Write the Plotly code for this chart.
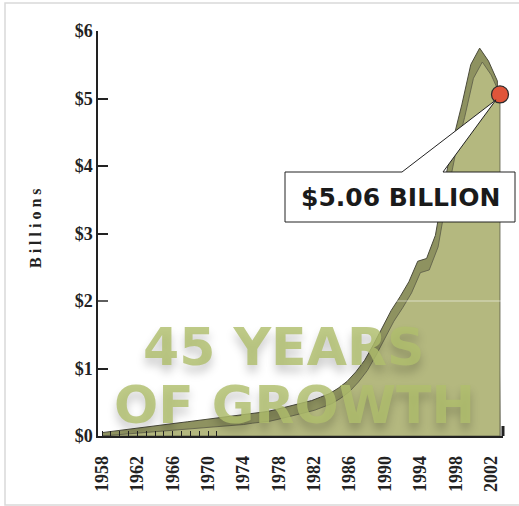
import plotly.graph_objects as go

# ---- data (billions of dollars) ----
years = list(range(1958, 2004))
values = [0.00, 0.01, 0.02, 0.03, 0.04, 0.05, 0.06, 0.07, 0.08, 0.09,
          0.10, 0.11, 0.12, 0.13, 0.14, 0.15, 0.17, 0.19, 0.20, 0.22,
          0.25, 0.28, 0.31, 0.34, 0.38, 0.43, 0.48, 0.56, 0.66, 0.80,
          0.97, 1.20, 1.45, 1.70, 1.90, 2.12, 2.42, 2.46, 2.80, 3.55,
          4.20, 4.72, 5.30, 5.54, 5.35, 5.06]
label_years = list(range(1958, 2003, 4))
y_ticks = [0, 1, 2, 3, 4, 5, 6]
y_tick_text = ["$0", "$1", "$2", "$3", "$4", "$5", "$6"]
callout_text = "$5.06 BILLION"
title_lines = ["45 YEARS", "OF GROWTH"]

# ---- layout geometry ----
W, H = 519, 506
L, R, T, B = 98, 16, 31, 70
pw, ph = W - L - R, H - T - B
x0, x1 = 1957.548, 2003.34
y0, y1 = 0, 6

def pxx(px):
    return (px - L) / pw

def pxy(py):
    return (H - B - py) / ph

# extrusion (back face) derived from the series: offset up/left, tapering at the start
dx = 0.3
back_x, back_y = [], []
for i, (yr, v) in enumerate(zip(years, values)):
    depth = 0.05 + 0.09 * min(1.0, i / 15)
    back_x.append(yr - dx * min(1.0, i / 3))
    back_y.append(v * 1.012 + depth)
back_x += [years[-1], years[0]]
back_y += [0, 0]

front_x = years + [years[-1], years[0]]
front_y = values + [0, 0]

fig = go.Figure()
fig.add_trace(go.Scatter(x=back_x, y=back_y, fill="toself", mode="lines",
                         fillcolor="#8e9260", line=dict(color="#4a4a3a", width=1),
                         hoverinfo="skip", showlegend=False))
fig.add_trace(go.Scatter(x=front_x, y=front_y, fill="toself", mode="lines",
                         fillcolor="#b4b87f", line=dict(color="#5a5a48", width=0.8),
                         hoverinfo="skip", showlegend=False))
fig.add_trace(go.Scatter(x=[years[-1]], y=[values[-1]], mode="markers",
                         marker=dict(size=17, color="#e0553a",
                                     line=dict(color="#2a2a2a", width=1.2)),
                         cliponaxis=False, showlegend=False, hoverinfo="skip"))

# callout (box + pointer) in paper coordinates; apex from last data point
ax = (years[-1] - 0.45 - x0) / (x1 - x0)
ay = (values[-1] - 0.08 - y0) / (y1 - y0)
bx0, bx1 = pxx(285), pxx(515)
by0, by1 = pxy(222), pxy(172)
tx0, tx1 = pxx(402), pxx(443)
path = (f"M {bx0},{by0} L {bx0},{by1} L {tx0},{by1} L {ax},{ay} "
        f"L {tx1},{by1} L {bx1},{by1} L {bx1},{by0} Z")

shapes = [
    # outer light frame
    dict(type="rect", xref="paper", yref="paper",
         x0=pxx(5), x1=pxx(530), y0=pxy(505), y1=pxy(3),
         line=dict(color="#d9d9d9", width=1.5), fillcolor="rgba(0,0,0,0)",
         layer="below"),
    # faint highlight line at $2
    dict(type="line", xref="paper", yref="y", x0=0, x1=1, y0=2, y1=2,
         line=dict(color="rgba(255,255,255,0.55)", width=1), layer="above"),
    # end tick of x axis
    dict(type="line", xref="paper", yref="paper", x0=1, x1=1, y0=0, y1=10 / ph,
         line=dict(color="#222", width=3), layer="above"),
    # callout
    dict(type="path", xref="paper", yref="paper", path=path,
         fillcolor="white", line=dict(color="#222", width=1), layer="above"),
]

title_font = dict(family="DejaVu Sans", size=52, weight="bold",
                  color="rgba(176,190,108,0.82)",
                  shadow="0px 7px 10px rgba(0,0,0,0.25)")
annotations = [
    dict(text=title_lines[0], xref="paper", yref="paper", x=pxx(283), y=pxy(347),
         showarrow=False, xanchor="center", yanchor="middle", font=title_font),
    dict(text=title_lines[1], xref="paper", yref="paper", x=pxx(294), y=pxy(405),
         showarrow=False, xanchor="center", yanchor="middle", font=title_font),
    dict(text=callout_text, xref="paper", yref="paper", x=pxx(400), y=pxy(197),
         showarrow=False, xanchor="center", yanchor="middle",
         font=dict(family="DejaVu Sans", size=25, weight="bold", color="#1a1a1a")),
    dict(text="\u00a0".join("Billions"), xref="paper", yref="paper",
         x=pxx(36), y=pxy(228), textangle=-90, showarrow=False,
         xanchor="center", yanchor="middle",
         font=dict(family="Liberation Serif", size=16, weight="bold", color="#222")),
]

fig.update_layout(
    width=W, height=H,
    margin=dict(l=L, r=R, t=T, b=B, pad=0),
    paper_bgcolor="white", plot_bgcolor="white",
    shapes=shapes, annotations=annotations,
    xaxis=dict(range=[x0, x1], tickvals=label_years,
               ticktext=[str(y) for y in label_years], tickangle=-90,
               ticks="", showgrid=False, zeroline=False,
               showline=True, linecolor="#222", linewidth=1.8,
               tickfont=dict(family="Liberation Serif", size=18, weight="bold", color="#222"),
               ticklabelstandoff=11,
               minor=dict(tickvals=list(range(1958, 1972)), ticks="inside",
                          ticklen=5, tickcolor="#222", tickwidth=1)),
    yaxis=dict(range=[y0, y1], tickvals=y_ticks, ticktext=y_tick_text,
               ticks="inside", ticklen=10, tickwidth=1.5, tickcolor="#222",
               showgrid=False, zeroline=False,
               showline=True, linecolor="#222", linewidth=1.5,
               tickfont=dict(family="Liberation Serif", size=18, weight="bold", color="#222")),
)

fig.write_html("out.html")
